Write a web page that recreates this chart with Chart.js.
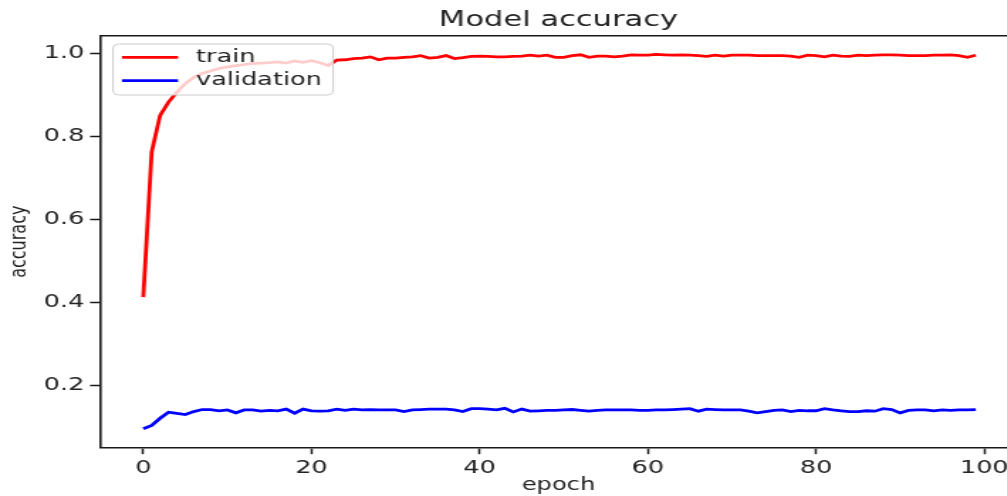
<!DOCTYPE html>
<html>
<head>
<meta charset="utf-8">
<script src="https://cdn.jsdelivr.net/npm/chart.js@4.4.1/dist/chart.umd.min.js"></script>
<style>
  html, body { margin:0; padding:0; background:#fff; overflow:hidden; width:1007px; height:496px; }
  /* the source picture is stretched sideways, so draw narrow and stretch the canvas */
  #wrap { width:787px; height:496px; transform:scaleX(1.42); transform-origin:0 0; }
</style>
</head>
<body>
<div id="wrap"><canvas id="acc-chart" width="787" height="496"></canvas></div>
<script>
// ── data ─────────────────────────────────────────────
const TRAIN_ACC = [
  0.413, 0.763, 0.851, 0.883, 0.907, 0.928, 0.942, 0.952, 0.958, 0.964,
  0.968, 0.971, 0.973, 0.976, 0.977, 0.978, 0.980, 0.977, 0.982, 0.979,
  0.983, 0.978, 0.971, 0.984, 0.985, 0.988, 0.989, 0.992, 0.985, 0.989,
  0.989, 0.991, 0.992, 0.995, 0.989, 0.991, 0.995, 0.988, 0.990, 0.993,
  0.994, 0.993, 0.992, 0.992, 0.993, 0.994, 0.996, 0.994, 0.996, 0.991,
  0.991, 0.995, 0.997, 0.991, 0.994, 0.994, 0.992, 0.994, 0.997, 0.996,
  0.996, 0.998, 0.997, 0.996, 0.997, 0.996, 0.995, 0.993, 0.996, 0.994,
  0.996, 0.996, 0.996, 0.995, 0.995, 0.995, 0.995, 0.994, 0.991, 0.996,
  0.995, 0.992, 0.996, 0.994, 0.993, 0.996, 0.995, 0.996, 0.997, 0.997,
  0.996, 0.995, 0.995, 0.995, 0.996, 0.996, 0.997, 0.995, 0.991, 0.996,
];
const VAL_ACC = [
  0.0955, 0.1035, 0.121, 0.1356, 0.1325, 0.130, 0.137, 0.142, 0.142, 0.139,
  0.141, 0.134, 0.141, 0.141, 0.138, 0.140, 0.139, 0.143, 0.133, 0.143,
  0.139, 0.138, 0.139, 0.143, 0.140, 0.143, 0.141, 0.142, 0.141, 0.141,
  0.141, 0.137, 0.141, 0.142, 0.143, 0.143, 0.143, 0.141, 0.137, 0.144,
  0.144, 0.143, 0.141, 0.145, 0.136, 0.143, 0.138, 0.139, 0.140, 0.140,
  0.141, 0.142, 0.140, 0.138, 0.140, 0.141, 0.141, 0.141, 0.141, 0.140,
  0.140, 0.141, 0.141, 0.142, 0.143, 0.144, 0.138, 0.143, 0.142, 0.141,
  0.141, 0.141, 0.138, 0.134, 0.137, 0.140, 0.141, 0.137, 0.140, 0.139,
  0.139, 0.144, 0.141, 0.139, 0.137, 0.137, 0.139, 0.138, 0.144, 0.142,
  0.134, 0.140, 0.141, 0.141, 0.139, 0.141, 0.140, 0.141, 0.141, 0.142,
];
const SERIES_NAMES = ['train', 'validation'];
const X_TICKS = [0, 20, 40, 60, 80, 100];
const Y_TICKS = [0.2, 0.4, 0.6, 0.8, 1.0];

const AXIS_COLOR = '#1a1a1a';
const TEXT_COLOR = '#222';
const FONT = '"DejaVu Sans", sans-serif';

const toPoints = arr => arr.map((v, i) => ({ x: i, y: v }));

// ── top/right spines + matplotlib style legend ───────
const frameAndLegend = {
  id: 'frameAndLegend',
  afterDatasetsDraw(chart) {
    const { ctx, chartArea: a } = chart;
    ctx.save();
    ctx.strokeStyle = AXIS_COLOR;
    ctx.lineWidth = 1.6;
    ctx.beginPath();
    ctx.moveTo(a.left, a.top);
    ctx.lineTo(a.right, a.top);
    ctx.lineTo(a.right, a.bottom);
    ctx.stroke();

    const x0 = a.left + 9.2, y0 = a.top + 8.3;
    ctx.fillStyle = 'rgba(255,255,255,0.8)';
    ctx.strokeStyle = '#cccccc';
    ctx.lineWidth = 1;
    ctx.beginPath();
    ctx.roundRect(x0, y0, 155, 51, 4);
    ctx.fill();
    ctx.stroke();

    chart.data.datasets.forEach((ds, i) => {
      const y = y0 + 13.3 + i * 23.4;
      ctx.strokeStyle = ds.borderColor;
      ctx.lineWidth = ds.borderWidth;
      ctx.beginPath();
      ctx.moveTo(x0 + 6.3, y);
      ctx.lineTo(x0 + 45.8, y);
      ctx.stroke();
      ctx.fillStyle = TEXT_COLOR;
      ctx.font = '18px ' + FONT;
      ctx.textBaseline = 'middle';
      ctx.fillText(ds.label, x0 + 58.4, y);
    });
    ctx.restore();
  },
};

new Chart(document.getElementById('acc-chart'), {
  type: 'line',
  data: {
    datasets: [
      { label: SERIES_NAMES[0], data: toPoints(TRAIN_ACC), borderColor: '#ff0000', borderWidth: 2.8 },
      { label: SERIES_NAMES[1], data: toPoints(VAL_ACC), borderColor: '#0000ff', borderWidth: 2.8 },
    ],
  },
  options: {
    responsive: false,
    animation: false,
    // right part of the axes (with its spine) falls outside the visible page, as in the cropped original
    layout: { padding: { left: 0, right: 70.8, top: 0, bottom: 0 } },
    elements: { point: { radius: 0 }, line: { tension: 0 } },
    plugins: {
      legend: { display: false },
      tooltip: { enabled: false },
      title: {
        display: true,
        fullSize: false,
        text: 'Model accuracy',
        color: TEXT_COLOR,
        font: { family: FONT, size: 21.5, weight: 'normal', lineHeight: 1.2 },
        padding: { top: 8, bottom: 1.9 },
      },
    },
    scales: {
      x: {
        type: 'linear',
        min: -5.15,
        max: 103.9,
        afterFit: s => { s.height = 48.3; },
        afterBuildTicks: s => { s.ticks = X_TICKS.map(v => ({ value: v })); },
        grid: { drawOnChartArea: false, drawTicks: true, tickLength: 6.5, tickColor: AXIS_COLOR, tickWidth: 1.5 },
        border: { display: true, color: AXIS_COLOR, width: 1.6 },
        ticks: { color: TEXT_COLOR, font: { family: FONT, size: 18 }, padding: 3, maxRotation: 0, callback: v => String(v) },
        title: { display: true, text: 'epoch', color: TEXT_COLOR, font: { family: FONT, size: 17 }, padding: { top: 0, bottom: 0 } },
      },
      y: {
        type: 'linear',
        min: 0.05,
        max: 1.043,
        afterFit: s => { s.width = 70.4; },
        afterBuildTicks: s => { s.ticks = Y_TICKS.map(v => ({ value: v })); },
        grid: { drawOnChartArea: false, drawTicks: true, tickLength: 7, tickColor: AXIS_COLOR, tickWidth: 1.5 },
        border: { display: true, color: AXIS_COLOR, width: 1.6 },
        ticks: { color: TEXT_COLOR, font: { family: FONT, size: 18 }, padding: 4, callback: v => v.toFixed(1) },
        title: { display: true, text: 'accuracy', color: TEXT_COLOR, font: { family: FONT, size: 16 }, padding: { top: 4.4, bottom: 0 } },
      },
    },
  },
  plugins: [frameAndLegend],
});
</script>
</body>
</html>
